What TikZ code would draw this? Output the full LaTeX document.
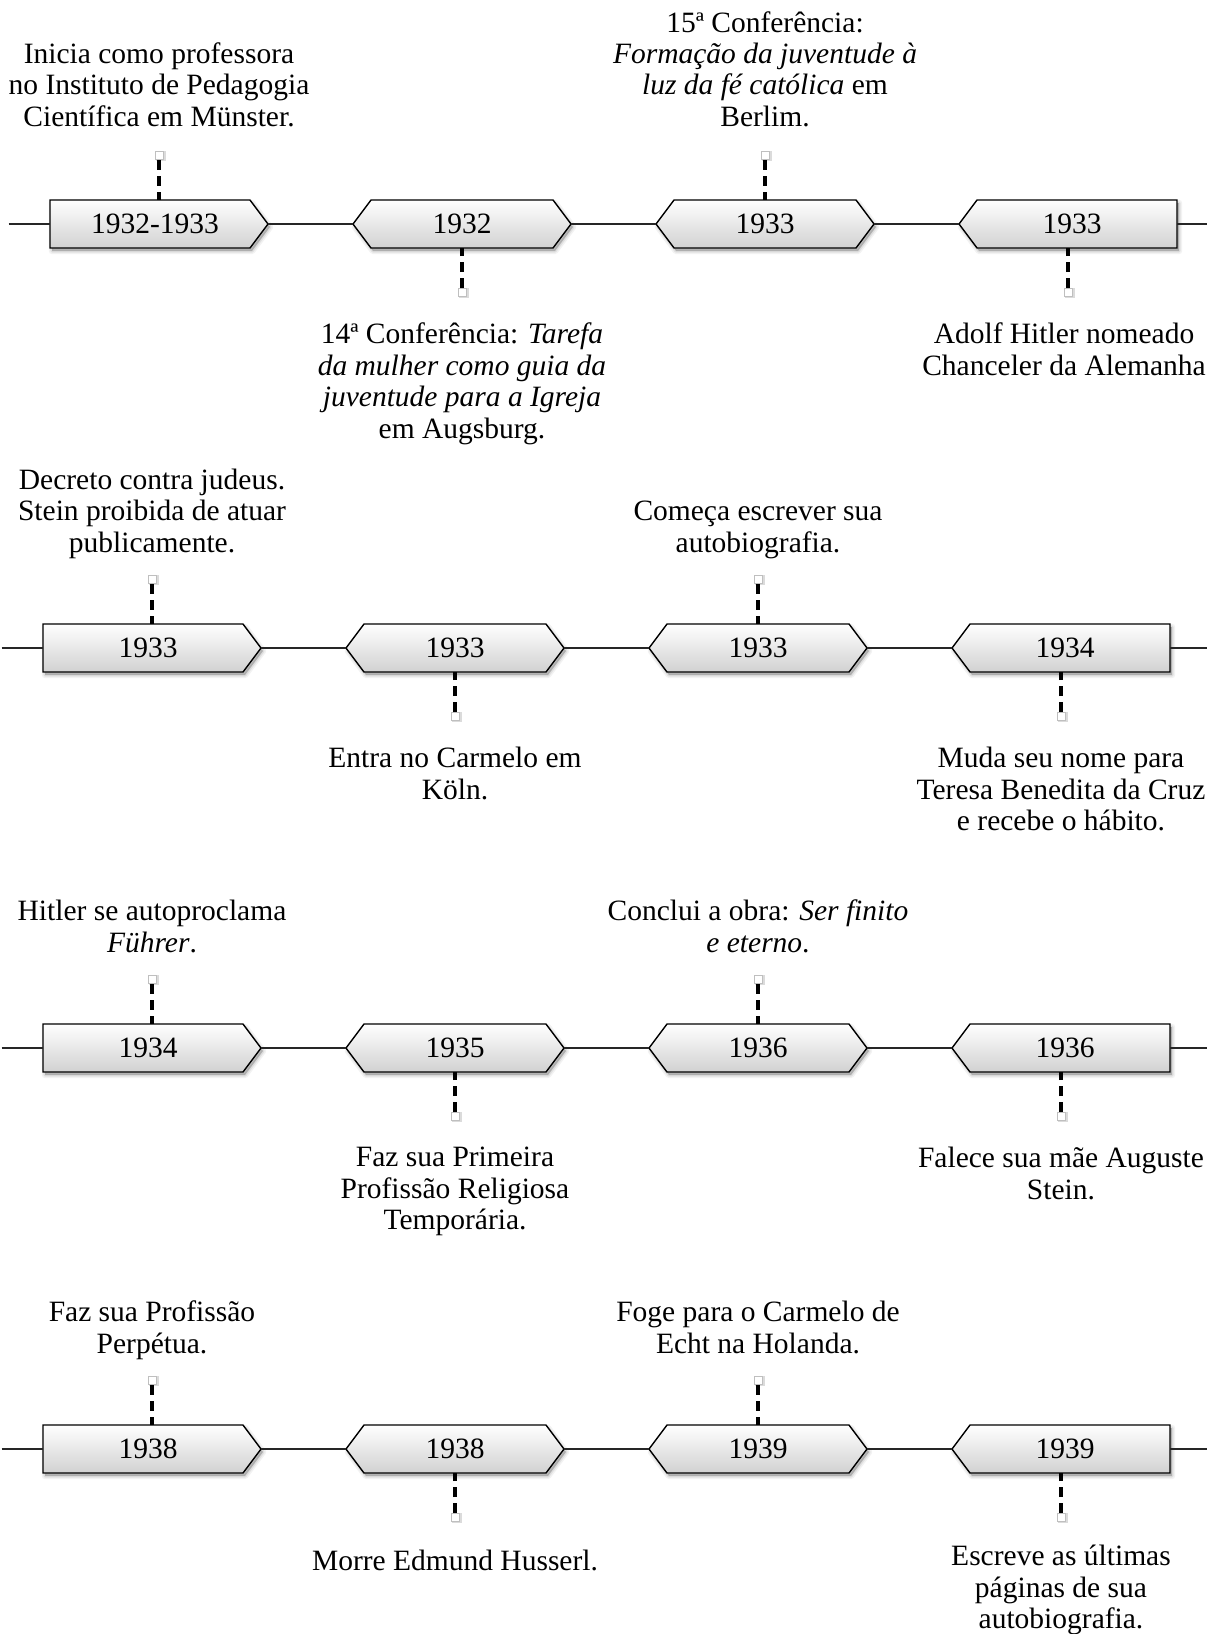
\documentclass[tikz,border=0pt]{standalone}
\usepackage{fontspec}
\setmainfont{Liberation Serif}
\tikzset{
  yr/.style={rectangle, minimum width=109pt, minimum height=24pt, inner sep=0pt, font=\fontsize{14.75}{15.7}\selectfont},
  yrR/.style={yr, execute at end node={\kern4pt}},
  yrL/.style={yr, execute at begin node={\kern4pt}},
  yrB/.style={yr},
  boxsty/.style={draw=black, line width=0.7pt, line join=miter, top color=white, middle color=black!3, bottom color=black!18},
  desc/.style={align=center, inner sep=0pt, font=\fontsize{14.75}{15.7}\selectfont,
    execute at begin node=\strut, execute at end node=\strut},
  tline/.style={line width=0.55pt, draw=black!85},
  conn/.style={line width=1.6pt, dash pattern=on 5pt off 3pt},
  endsq/.style={rectangle, minimum size=4pt, inner sep=0pt, fill=white, draw=black!25, line width=0.4pt},
}
\def\shpR{(-109,-24) -- (91,-24) -- (109,0) -- (91,24) -- (-109,24) -- cycle}
\def\shpB{(-91,-24) -- (91,-24) -- (109,0) -- (91,24) -- (-91,24) -- (-109,0) -- cycle}
\def\shpL{(-91,-24) -- (109,-24) -- (109,24) -- (-91,24) -- (-109,0) -- cycle}
% #1 name, #2 shape, #3 x, #4 y, #5 node style, #6 label
\newcommand\yrbox[6]{%
  \fill[black, opacity=0.22, shift={(#3+2,#4+3)}] #2;
  \draw[black, opacity=0.08, line width=1.6pt, line join=round, shift={(#3+2,#4+3)}] #2;
  \draw[black, opacity=0.05, line width=3.2pt, line join=round, shift={(#3+2,#4+3)}] #2;
  \path[boxsty, shift={(#3,#4)}] #2;
  \node[#5] (#1) at (#3,#4) {#6};
}
\newcommand\sqshadow[1]{%
  \fill[black, opacity=0.14] ([shift={(-1.6pt,-2.7pt)}]#1) rectangle ([shift={(3.3pt,2.4pt)}]#1);
}
\begin{document}
\begin{tikzpicture}[x=0.5pt,y=-0.5pt]
\useasboundingbox (0,0) rectangle (1206,1634);

% ---------- Row 1 ----------
\yrbox{b11}{\shpR}{159}{224}{yrR}{1932-1933}
\yrbox{b12}{\shpB}{462}{224}{yrB}{1932}
\yrbox{b13}{\shpB}{765}{224}{yrB}{1933}
\yrbox{b14}{\shpL}{1068}{224}{yrL}{1933}
% ---------- Row 2 ----------
\yrbox{b21}{\shpR}{152}{648}{yrR}{1933}
\yrbox{b22}{\shpB}{455}{648}{yrB}{1933}
\yrbox{b23}{\shpB}{758}{648}{yrB}{1933}
\yrbox{b24}{\shpL}{1061}{648}{yrL}{1934}
% ---------- Row 3 ----------
\yrbox{b31}{\shpR}{152}{1048}{yrR}{1934}
\yrbox{b32}{\shpB}{455}{1048}{yrB}{1935}
\yrbox{b33}{\shpB}{758}{1048}{yrB}{1936}
\yrbox{b34}{\shpL}{1061}{1048}{yrL}{1936}
% ---------- Row 4 ----------
\yrbox{b41}{\shpR}{152}{1449}{yrR}{1938}
\yrbox{b42}{\shpB}{455}{1449}{yrB}{1938}
\yrbox{b43}{\shpB}{758}{1449}{yrB}{1939}
\yrbox{b44}{\shpL}{1061}{1449}{yrL}{1939}

% timelines
\foreach \r in {1,2,3,4}{
  \coordinate (r\r a) at ([xshift=-20.5pt]b\r1.west);
  \coordinate (r\r b) at ([xshift=22pt]b\r4.east);
  \draw[tline] (r\r a) -- (b\r1) -- (b\r2) -- (b\r3) -- (b\r4) -- (r\r b);
}

% connector end squares and dashed connectors
\foreach \r in {1,2,3,4}{
  \coordinate (p\r1) at ([yshift=22pt]b\r1.north);
  \coordinate (p\r2) at ([yshift=-22pt]b\r2.south);
  \coordinate (p\r3) at ([yshift=22pt]b\r3.north);
  \coordinate (p\r4) at ([yshift=-22pt]b\r4.south);
  \foreach \c in {1,2,3,4}{
    \sqshadow{p\r\c}
    \node[endsq] (s\r\c) at (p\r\c) {};
    \draw[conn] (s\r\c) -- (b\r\c);
  }
}

% ---------- texts row 1 ----------
\node[desc, anchor=south] (t11) at ([yshift=31.7pt]b11.north) {Inicia como professora\\no Instituto de Pedagogia\\Científica em Münster.};
\node[desc, anchor=north] (t12) at ([yshift=-37.2pt]b12.south) {14ª Conferência: \textit{Tarefa}\\\textit{da mulher como guia da}\\\textit{juventude para a Igreja}\\em Augsburg.};
\node[desc, anchor=south] (t13) at ([yshift=31.7pt]b13.north) {15ª Conferência:\\\textit{Formação da juventude à}\\\textit{luz da fé católica} em\\Berlim.};
\node[desc, anchor=north] (t14) at ([yshift=-37.2pt,xshift=-2pt]b14.south) {Adolf Hitler nomeado\\Chanceler da Alemanha};
% ---------- texts row 2 ----------
\node[desc, anchor=south] (t21) at ([yshift=30.7pt]b21.north) {Decreto contra judeus.\\Stein proibida de atuar\\publicamente.};
\node[desc, anchor=north] (t22) at ([yshift=-37.2pt]b22.south) {Entra no Carmelo em\\Köln.};
\node[desc, anchor=south] (t23) at ([yshift=30.7pt]b23.north) {Começa escrever sua\\autobiografia.};
\node[desc, anchor=north] (t24) at ([yshift=-37.2pt]b24.south) {Muda seu nome para\\Teresa Benedita da Cruz\\e recebe o hábito.};
% ---------- texts row 3 ----------
\node[desc, anchor=south] (t31) at ([yshift=30.7pt]b31.north) {Hitler se autoproclama\\\textit{Führer}.};
\node[desc, anchor=north] (t32) at ([yshift=-37.2pt]b32.south) {Faz sua Primeira\\Profissão Religiosa\\Temporária.};
\node[desc, anchor=south] (t33) at ([yshift=30.7pt]b33.north) {Conclui a obra: \textit{Ser finito}\\\textit{e eterno}.};
\node[desc, anchor=north] (t34) at ([yshift=-37.2pt]b34.south) {Falece sua mãe Auguste\\Stein.};
% ---------- texts row 4 ----------
\node[desc, anchor=south] (t41) at ([yshift=30.7pt]b41.north) {Faz sua Profissão\\Perpétua.};
\node[desc, anchor=north] (t42) at ([yshift=-37.2pt]b42.south) {Morre Edmund Husserl.};
\node[desc, anchor=south] (t43) at ([yshift=30.7pt]b43.north) {Foge para o Carmelo de\\Echt na Holanda.};
\node[desc, anchor=north] (t44) at ([yshift=-35.7pt]b44.south) {Escreve as últimas\\páginas de sua\\autobiografia.};
\end{tikzpicture}
\end{document}
